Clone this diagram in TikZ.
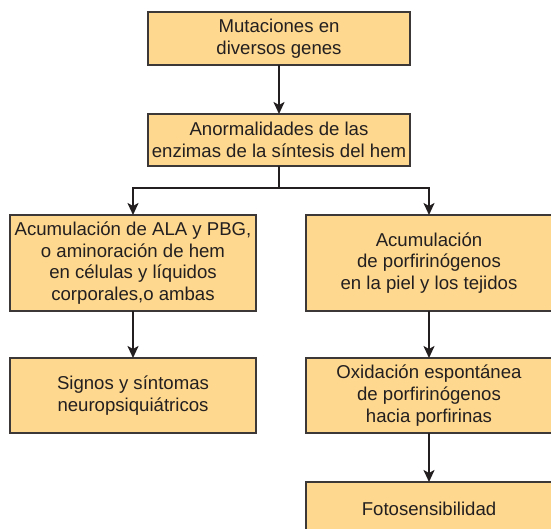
\documentclass[tikz,border=0pt]{standalone}
\usepackage{fontspec}
\setmainfont{Liberation Sans}
\usepackage{xcolor}
\usepackage{tikz}
\usetikzlibrary{positioning, arrows.meta, calc}

\definecolor{boxfill}{RGB}{253,216,142}
\definecolor{boxline}{RGB}{60,56,56}
\definecolor{inkdark}{RGB}{35,31,32}

\begin{document}
\begin{tikzpicture}[
  node distance=49pt and 49pt,
  block/.style={
    rectangle,
    draw=boxline,
    line width=1.1pt,
    fill=boxfill,
    text=inkdark,
    minimum width=246pt,
    align=center,
    inner sep=3pt,
    outer sep=0pt,
    font=\fontsize{18.6pt}{21.6pt}\selectfont
  },
  line/.style={draw=inkdark, line width=2.4pt},
  arrow/.style={line, -{Stealth[length=12pt, width=11pt, inset=3pt]}}
]
  \useasboundingbox (0,0) rectangle (551pt,-529pt);

  % Nodes
  \node (A) [block, minimum width=262pt, minimum height=53pt] at (279pt,-38.5pt)
    {Mutaciones en\\ diversos genes};
  \node (B) [block, minimum width=262pt, minimum height=52pt, below=of A]
    {Anormalidades de las\\ enzimas de la síntesis del hem};

  \node (C) [block, minimum height=96pt, below=of B, xshift=-146pt]
    {Acumulación de ALA y PBG,\\ o aminoración de hem\\ en células y líquidos\\ corporales,o ambas};
  \node (D) [block, minimum height=96pt, below=of B, xshift=150pt]
    {Acumulación\\ de porfirinógenos\\ en la piel y los tejidos};

  \node (E) [block, minimum height=75pt, below=47pt of C]
    {Signos y síntomas\\ neuropsiquiátricos};
  \node (F) [block, minimum height=75pt, below=47pt of D]
    {Oxidación espontánea\\ de porfirinógenos\\ hacia porfirinas};

  \node (G) [block, minimum height=54pt, below=of F] {Fotosensibilidad};

  \coordinate (split) at ($(B.south)+(0,-22pt)$);

  % Arrows
  \draw [arrow] (A) -- (B);
  \draw [line] (B) -- (split);
  \draw [arrow] (split) -| (C);
  \draw [arrow] (split) -| (D);
  \draw [arrow] (C) -- (E);
  \draw [arrow] (D) -- (F);
  \draw [arrow] (F) -- (G);

\end{tikzpicture}
\end{document}
